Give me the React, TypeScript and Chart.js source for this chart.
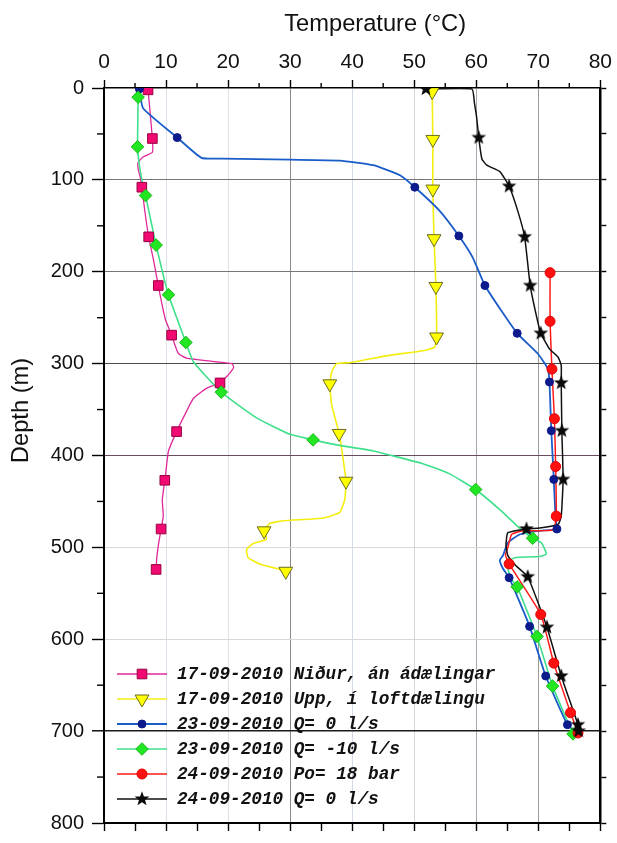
import React, { useEffect, useRef } from 'react';
import { Chart, registerables } from 'chart.js';

Chart.register(...registerables);

// ---------- axis values ----------
const tempMin = 0;
const tempMax = 80;
const depthMin = 0;
const depthMax = 800;

// ---------- 17-09-2010 Niður, án ádælingar (pink squares) ----------
const nidurLineT = [7.1, 7.8, 7.8, 6.3, 5.5, 5.5, 5.8, 6.1, 6.6, 7.2, 8.0, 8.75, 9.3, 9.9, 10.9, 11.4, 12.0, 13.3, 18.1, 20.6, 20.9, 20.3, 19.5, 18.7, 16.5, 14.4, 13.3, 11.7, 10.4, 10.0, 9.8, 9.4, 9.55, 9.2, 8.75, 8.5, 8.4];
const nidurLineD = [2, 55, 70, 75, 81, 88, 96, 108, 135, 162, 188, 215, 234, 252, 269, 279, 289, 294, 298, 300, 304, 310, 316, 321, 327, 338, 352, 374, 395, 416, 427, 448, 466, 480, 498, 512, 524];
const nidurMarkT = [7.1, 7.8, 6.1, 7.2, 8.75, 10.9, 18.7, 11.7, 9.8, 9.2, 8.4];
const nidurMarkD = [2, 55, 108, 162, 215, 269, 321, 374, 427, 480, 524];

// ---------- 17-09-2010 Upp, í loftdælingu (yellow triangles) ----------
const uppLineT = [52.9, 53.0, 53.0, 53.2, 53.5, 53.6, 53.3, 51.4, 46.0, 39.6, 37.5, 36.7, 36.4, 36.7, 37.9, 38.5, 39.0, 38.8, 38.0, 35.3, 28.9, 26.7, 25.8, 26.2, 24.0, 23.0, 23.2, 25.1, 27.8, 29.3];
const uppLineD = [4, 56, 110, 164, 216, 271, 282, 286, 291, 299, 300, 309, 322, 345, 376, 402, 428, 448, 462, 468, 471, 474, 482, 491, 496, 502, 511, 518, 523, 526];
const uppMarkT = [52.9, 53.0, 53.0, 53.2, 53.5, 53.6, 36.4, 37.9, 39.0, 25.8, 29.3];
const uppMarkD = [4, 56, 110, 164, 216, 271, 322, 376, 428, 482, 526];

// ---------- 23-09-2010 Q= 0 l/s (blue circles) ----------
const q0aLineT = [5.7, 6.3, 11.8, 15.7, 19.0, 30.0, 38.0, 43.4, 47.7, 50.1, 54.0, 57.2, 59.4, 61.4, 64.0, 66.6, 69.9, 71.5, 71.8, 72.1, 72.5, 72.8, 73.0, 70.0, 67.0, 65.1, 64.3, 63.8, 64.3, 65.3, 68.6, 71.2, 74.7, 76.0];
const q0aLineD = [1, 22, 54, 76, 76.8, 78, 79, 84, 95, 108, 133, 161, 184, 215, 242, 267, 289, 305, 320, 373, 426, 470, 480, 482, 486, 495, 509, 514, 523, 533, 586, 640, 693, 701];
const q0aMarkT = [5.7, 11.8, 50.1, 57.2, 61.4, 66.6, 71.8, 72.1, 72.5, 73.0, 65.3, 68.6, 71.2, 74.7];
const q0aMarkD = [1, 54, 108, 161, 215, 267, 320, 373, 426, 480, 533, 586, 640, 693];

// ---------- 23-09-2010 Q= -10 l/s (green diamonds) ----------
const q10LineT = [5.5, 5.4, 5.5, 5.7, 6.05, 6.7, 8.4, 10.4, 13.2, 14.4, 18.9, 24.6, 30.0, 33.7, 38.0, 43.4, 51.4, 55.7, 59.9, 63.8, 67.3, 69.1, 70.5, 71.3, 70.2, 66.4, 65.4, 65.1, 65.6, 66.6, 69.8, 72.3, 75.6];
const q10LineD = [10, 64, 73, 84, 98, 117, 171, 225, 277, 298, 331, 359, 377, 383, 389, 395, 409, 420, 437, 459, 481, 490, 495, 507, 510, 511, 514, 523, 534, 543, 597, 651, 703];
const q10MarkT = [5.5, 5.4, 6.7, 8.4, 10.4, 13.2, 18.9, 33.7, 59.9, 69.1, 66.6, 69.8, 72.3, 75.6];
const q10MarkD = [10, 64, 117, 171, 225, 277, 331, 383, 437, 490, 543, 597, 651, 703];

// ---------- 24-09-2010 Po= 18 bar (red circles) ----------
const poLineT = [71.9, 71.9, 72.2, 72.6, 72.8, 72.9, 72.4, 67.5, 65.7, 65.1, 64.7, 65.3, 70.4, 72.5, 75.2, 76.4];
const poLineD = [201, 254, 306, 360, 412, 466, 481, 482, 486, 500, 508, 518, 573, 626, 680, 702];
const poMarkT = [71.9, 71.9, 72.2, 72.6, 72.8, 72.9, 65.3, 70.4, 72.5, 75.2, 76.4];
const poMarkD = [201, 254, 306, 360, 412, 466, 518, 573, 626, 680, 702];

// ---------- 24-09-2010 Q= 0 l/s (black stars) ----------
const q0bLineT = [51.9, 59.3, 59.7, 60.1, 60.4, 60.9, 61.7, 63.8, 65.3, 66.7, 67.8, 68.7, 69.7, 70.4, 71.8, 73.2, 73.7, 73.7, 73.8, 74.0, 73.7, 73.2, 70.2, 68.1, 65.1, 64.8, 65.1, 66.4, 68.3, 71.4, 73.7, 76.4, 76.5];
const q0bLineD = [1, 1, 16, 34, 54, 77, 84, 91, 107, 134, 162, 215, 248, 267, 284, 293, 302, 321, 373, 426, 466, 475, 479, 480, 484, 498, 509, 520, 532, 587, 640, 693, 700];
const q0bMarkT = [51.9, 60.4, 65.3, 67.8, 68.7, 70.4, 73.7, 73.8, 74.0, 68.1, 68.3, 71.4, 73.7, 76.4, 76.5];
const q0bMarkD = [1, 54, 107, 162, 215, 267, 321, 373, 426, 480, 532, 587, 640, 693, 700];

const legendLabels = [
  '17-09-2010 Niður, án ádælingar',
  '17-09-2010 Upp, í loftdælingu',
  '23-09-2010 Q= 0 l/s',
  '23-09-2010 Q= -10 l/s',
  '24-09-2010 Po= 18 bar',
  '24-09-2010 Q= 0 l/s',
];

const xTitle = 'Temperature (°C)';
const yTitle = 'Depth (m)';

// ---------- styles ----------
const vGridShade: Record<number, string> = { 10: '#dde1ea', 20: '#e0e0e8', 30: '#8a8a8a', 40: '#d3dbe6', 50: '#d6d6d6', 60: '#a4a8b0', 70: '#9a9a9a' };
const hGridShade: Record<number, string> = { 100: '#767676', 200: '#767676', 300: '#4a4a4a', 400: '#6a4a5e', 500: '#d8d8d8', 600: '#d8d8d8', 700: '#1a1a1a' };

const zip = (xs: number[], ys: number[]) => xs.map((x, i) => ({ x, y: ys[i] }));

function makeStar(size: number, color: string) {
  const c = document.createElement('canvas');
  c.width = size;
  c.height = size;
  const g = c.getContext('2d')!;
  const cx = size / 2;
  const R = size / 2 - 0.3;
  const r = R * 0.42;
  g.beginPath();
  for (let i = 0; i < 10; i++) {
    const a = -Math.PI / 2 + (i * Math.PI) / 5;
    const rr = i % 2 ? r : R;
    g.lineTo(cx + rr * Math.cos(a), cx + rr * Math.sin(a));
  }
  g.closePath();
  g.fillStyle = color;
  g.fill();
  return c;
}

function drawMarker(ctx: CanvasRenderingContext2D, s: any, x: number, y: number) {
  ctx.save();
  ctx.fillStyle = s.fill;
  ctx.strokeStyle = s.stroke;
  ctx.lineWidth = 1;
  const r = s.radius;
  ctx.beginPath();
  if (s.style === 'rect') {
    const h = r * Math.SQRT1_2;
    ctx.rect(x - h, y - h, 2 * h, 2 * h);
  } else if (s.style === 'triangle') {
    ctx.moveTo(x, y + r);
    ctx.lineTo(x - r * Math.sin(Math.PI / 3), y - r / 2);
    ctx.lineTo(x + r * Math.sin(Math.PI / 3), y - r / 2);
    ctx.closePath();
  } else if (s.style === 'circle') {
    ctx.arc(x, y, r, 0, Math.PI * 2);
  } else if (s.style === 'rectRot') {
    ctx.moveTo(x, y - r);
    ctx.lineTo(x + r, y);
    ctx.lineTo(x, y + r);
    ctx.lineTo(x - r, y);
    ctx.closePath();
  }
  if (s.image) {
    ctx.drawImage(s.image, x - s.image.width / 2, y - s.image.height / 2);
  } else {
    ctx.fill();
    ctx.stroke();
  }
  ctx.restore();
}

export default function App() {
  const ref = useRef<HTMLCanvasElement>(null);

  useEffect(() => {
    const canvas = ref.current!;
    const star = makeStar(16, '#0a0a0a');

    const series = [
      { lt: nidurLineT, ld: nidurLineD, mt: nidurMarkT, md: nidurMarkD, line: '#e0289a', lw: 1.3, style: 'rect', radius: 6.8, fill: '#f00a72', stroke: '#9a0040', rot: 0, image: null as any },
      { lt: uppLineT, ld: uppLineD, mt: uppMarkT, md: uppMarkD, line: '#f4ee10', lw: 1.6, style: 'triangle', radius: 8, fill: '#ffff00', stroke: '#6a6a20', rot: 180, image: null as any },
      { lt: q0aLineT, ld: q0aLineD, mt: q0aMarkT, md: q0aMarkD, line: '#1a5cc8', lw: 1.8, style: 'circle', radius: 4, fill: '#0c1a8c', stroke: '#0c1a8c', rot: 0, image: null as any },
      { lt: q10LineT, ld: q10LineD, mt: q10MarkT, md: q10MarkD, line: '#3ee08c', lw: 1.6, style: 'rectRot', radius: 6.3, fill: '#22e622', stroke: '#18b818', rot: 0, image: null as any },
      { lt: poLineT, ld: poLineD, mt: poMarkT, md: poMarkD, line: '#ff1a1a', lw: 1.5, style: 'circle', radius: 5, fill: '#ff1010', stroke: '#e00000', rot: 0, image: null as any },
      { lt: q0bLineT, ld: q0bLineD, mt: q0bMarkT, md: q0bMarkD, line: '#111111', lw: 1.5, style: 'star', radius: 7, fill: '#000', stroke: '#000', rot: 0, image: star as any },
    ];

    const datasets: any[] = [];
    series.forEach((s, i) => {
      datasets.push({
        label: legendLabels[i] + ' line',
        data: zip(s.lt, s.ld),
        showLine: true,
        borderColor: s.line,
        borderWidth: s.lw,
        pointRadius: 0,
        pointHoverRadius: 0,
        tension: 0.15,
        fill: false,
        order: 20 - i,
      });
      datasets.push({
        label: legendLabels[i],
        data: zip(s.mt, s.md),
        showLine: false,
        pointStyle: s.image ? s.image : s.style,
        pointRadius: s.radius,
        pointRotation: s.rot,
        backgroundColor: s.fill,
        borderColor: s.stroke,
        pointBorderWidth: 1,
        order: 10 - i,
      });
    });

    const overlay = {
      id: 'overlay',
      afterDraw(chart: any) {
        const ctx: CanvasRenderingContext2D = chart.ctx;
        const xs = chart.scales.x;
        const ys = chart.scales.y;
        const area = chart.chartArea;
        ctx.save();
        // minor ticks
        ctx.strokeStyle = '#000';
        ctx.lineWidth = 1.4;
        for (let v = 5; v < tempMax; v += 10) {
          const px = xs.getPixelForValue(v);
          ctx.beginPath();
          ctx.moveTo(px, area.top);
          ctx.lineTo(px, area.top - 5);
          ctx.stroke();
        }
        for (let d = 50; d < depthMax; d += 100) {
          const py = ys.getPixelForValue(d);
          ctx.beginPath();
          ctx.moveTo(area.left - 7, py);
          ctx.lineTo(area.left, py);
          ctx.stroke();
        }
        // titles
        ctx.fillStyle = '#111';
        ctx.font = '23.7px "Liberation Sans", Arial, sans-serif';
        ctx.textAlign = 'center';
        ctx.textBaseline = 'middle';
        ctx.fillText(xTitle, (area.left + area.right) / 2 + 23, 24);
        ctx.save();
        ctx.translate(21, (area.top + area.bottom) / 2 - 45);
        ctx.rotate(-Math.PI / 2);
        ctx.fillText(yTitle, 0, 0);
        ctx.restore();
        // legend
        ctx.font = 'italic bold 17.7px "Liberation Mono", "Courier New", monospace';
        ctx.textAlign = 'left';
        ctx.textBaseline = 'middle';
        series.forEach((s, i) => {
          const y = area.bottom - 149 + i * 25;
          const x0 = area.left + 13;
          ctx.strokeStyle = s.line;
          ctx.lineWidth = s.lw;
          ctx.beginPath();
          ctx.moveTo(x0, y);
          ctx.lineTo(x0 + 50, y);
          ctx.stroke();
          drawMarker(ctx, s, x0 + 25, y);
          ctx.fillStyle = '#111';
          ctx.fillText(legendLabels[i], x0 + 60, y + 1);
        });
        ctx.restore();
      },
    };

    const chart = new Chart(canvas, {
      type: 'scatter',
      data: { datasets },
      plugins: [overlay],
      options: {
        animation: false,
        responsive: false,
        devicePixelRatio: 1,
        layout: { padding: 0 },
        plugins: { legend: { display: false }, tooltip: { enabled: false } },
        scales: {
          x: {
            type: 'linear',
            position: 'top',
            min: tempMin,
            max: tempMax,
            afterFit: (sc: any) => { sc.height = 88; },
            ticks: {
              stepSize: 10,
              color: '#111',
              padding: 5,
              font: { family: '"Liberation Sans", Arial, sans-serif', size: 21 },
            },
            grid: {
              color: (c: any) => vGridShade[c.tick?.value] || 'rgba(0,0,0,0)',
              lineWidth: 1,
              tickLength: 8,
              tickColor: '#000',
              tickWidth: 1.4,
            },
            border: { display: true, color: '#000', width: 1.6 },
          },
          x2: {
            type: 'linear',
            position: 'bottom',
            min: tempMin,
            max: tempMax,
            afterFit: (sc: any) => { sc.height = 8; },
            ticks: { stepSize: 5, display: false },
            grid: { drawOnChartArea: false, tickLength: 8, tickColor: '#000', tickWidth: 1.4 },
            border: { display: true, color: '#000', width: 2 },
          },
          y: {
            type: 'linear',
            position: 'left',
            reverse: true,
            min: depthMin,
            max: depthMax,
            afterFit: (sc: any) => { sc.width = 104; },
            ticks: {
              stepSize: 100,
              color: '#111',
              padding: 8,
              font: { family: '"Liberation Sans", Arial, sans-serif', size: 20 },
            },
            grid: {
              color: (c: any) => hGridShade[c.tick?.value] || 'rgba(0,0,0,0)',
              lineWidth: (c: any) => (c.tick?.value === 700 ? 1.6 : 1),
              tickLength: 12,
              tickColor: '#000',
              tickWidth: 1.4,
            },
            border: { display: true, color: '#000', width: 2 },
          },
          y2: {
            type: 'linear',
            position: 'right',
            reverse: true,
            min: depthMin,
            max: depthMax,
            afterFit: (sc: any) => { sc.width = 16; },
            ticks: { stepSize: 50, display: false },
            grid: { drawOnChartArea: false, tickLength: 6, tickColor: '#000', tickWidth: 1.4 },
            border: { display: true, color: '#000', width: 2.5 },
          },
        },
      } as any,
    });
    return () => chart.destroy();
  }, []);

  return (
    <div style={{ position: 'fixed', left: 0, top: 0, width: 617, height: 843, background: '#fff' }}>
      <canvas ref={ref} width={617} height={843} style={{ display: 'block', width: 617, height: 843 }} />
    </div>
  );
}
